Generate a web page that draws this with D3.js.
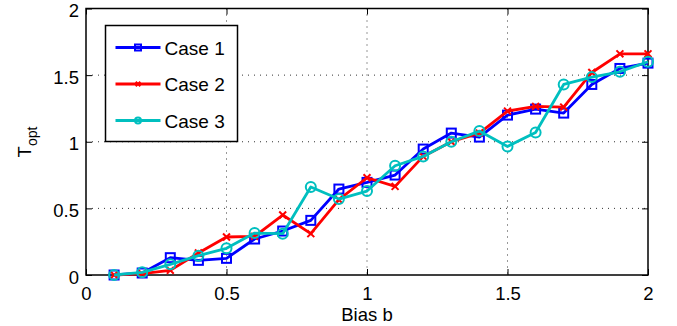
<!DOCTYPE html>
<html>
<head>
<meta charset="utf-8">
<script src="https://cdn.jsdelivr.net/npm/d3@7"></script>
<style>
  body { margin: 0; background: #fff; }
  svg { display: block; font-family: "Liberation Sans", Arial, Helvetica, sans-serif; }
</style>
</head>
<body>
<div class="container"></div>
<script>
const WIDTH = 677;
const HEIGHT = 326;
const MARGIN = {top: 8.5, right: 29, bottom: 51, left: 86};

var bias = [0.1,0.2,0.3,0.4,0.5,0.6,0.7,0.8,0.9,1.0,1.1,1.2,1.3,1.4,1.5,1.6,1.7,1.8,1.9,2.0];
var case1 = [0,0.015,0.13,0.11,0.125,0.27,0.33,0.41,0.645,0.695,0.75,0.945,1.065,1.035,1.2,1.245,1.215,1.43,1.55,1.59];
var case2 = [0,0.01,0.035,0.165,0.285,0.29,0.45,0.31,0.565,0.73,0.665,0.89,1.0,1.065,1.23,1.265,1.26,1.52,1.66,1.66];
var case3 = [0,0.02,0.08,0.145,0.2,0.315,0.31,0.66,0.57,0.63,0.82,0.89,1.0,1.08,0.965,1.07,1.43,1.485,1.525,1.6];
var xTicks = [0,0.5,1,1.5,2];
var yTicks = [0,0.5,1,1.5,2];
var seriesNames = ["Case 1","Case 2","Case 3"];
var seriesColors = ["#0000ff","#ff0000","#00bfbf"];
var seriesMarkers = ["square","cross","circle"];

var w = WIDTH - MARGIN.left - MARGIN.right;
var h = HEIGHT - MARGIN.top - MARGIN.bottom;

var x = d3.scaleLinear().domain([0,2]).range([0,w]);
var y = d3.scaleLinear().domain([0,2]).range([h,0]);

var svg = d3.select(".container").append("svg")
    .attr("width",WIDTH)
    .attr("height",HEIGHT);

var g = svg.append("g")
    .attr("transform","translate("+MARGIN.left+","+MARGIN.top+")");

// dotted grid
g.append("g").selectAll("line").data(xTicks.slice(1,-1)).enter().append("line")
    .attr("x1",function(d){return x(d);}).attr("x2",function(d){return x(d);})
    .attr("y1",0).attr("y2",h)
    .attr("stroke","#333").attr("stroke-width",1).attr("stroke-dasharray","1,5");
g.append("g").selectAll("line").data(yTicks.slice(1,-1)).enter().append("line")
    .attr("y1",function(d){return y(d);}).attr("y2",function(d){return y(d);})
    .attr("x1",0).attr("x2",w)
    .attr("stroke","#333").attr("stroke-width",1).attr("stroke-dasharray","1,5");

// axes with inward ticks
var axisStyle = function(sel){
    sel.select(".domain").remove();
    sel.selectAll(".tick line").attr("stroke","#000").attr("stroke-width",1);
    sel.selectAll(".tick text").attr("font-size","18.5px").attr("fill","#000");
};
g.append("g").attr("transform","translate(0,"+h+")")
    .call(d3.axisBottom(x).tickValues(xTicks).tickSizeInner(-6).tickPadding(12).tickFormat(d3.format("")))
    .call(axisStyle);
g.append("g")
    .call(d3.axisTop(x).tickValues(xTicks).tickSizeInner(-6).tickFormat(""))
    .call(axisStyle);
g.append("g")
    .call(d3.axisLeft(y).tickValues(yTicks).tickSizeInner(-6).tickPadding(7).tickFormat(d3.format("")))
    .call(axisStyle)
    .call(function(s){ s.selectAll(".tick text").attr("dy","0.44em"); });
g.append("g").attr("transform","translate("+w+",0)")
    .call(d3.axisRight(y).tickValues(yTicks).tickSizeInner(-6).tickFormat(""))
    .call(axisStyle);

g.append("rect").attr("width",w).attr("height",h)
    .attr("fill","none").attr("stroke","#000").attr("stroke-width",1.5);

var drawMarker = function(sel, type, color, s){
    if (type === "square") {
        sel.append("rect").attr("x",-s/2).attr("y",-s/2).attr("width",s).attr("height",s)
            .attr("fill","none").attr("stroke",color).attr("stroke-width",2);
    } else if (type === "circle") {
        sel.append("circle").attr("r",s/2)
            .attr("fill","none").attr("stroke",color).attr("stroke-width",2);
    } else {
        var c = s/2.6;
        sel.append("path").attr("d","M"+(-c)+","+(-c)+"L"+c+","+c+"M"+(-c)+","+c+"L"+c+","+(-c))
            .attr("fill","none").attr("stroke",color).attr("stroke-width",2);
    }
};

var line = d3.line()
    .x(function(d){return x(d[0]);})
    .y(function(d){return y(d[1]);});

[case1,case2,case3].forEach(function(vals,i){
    var pts = bias.map(function(b,j){return [b,vals[j]];});
    var sg = g.append("g");
    sg.append("path").datum(pts).attr("d",line)
        .attr("fill","none").attr("stroke",seriesColors[i]).attr("stroke-width",2.8)
        .attr("stroke-linejoin","round");
    sg.selectAll("g.mk").data(pts).enter().append("g")
        .attr("transform",function(d){return "translate("+x(d[0])+","+y(d[1])+")";})
        .each(function(){ drawMarker(d3.select(this), seriesMarkers[i], seriesColors[i], i===2 ? 10 : 9); });
});

// legend
var lg = svg.append("g").attr("transform","translate(105.5,25.5)");
lg.append("rect").attr("width",132).attr("height",116)
    .attr("fill","#fff").attr("stroke","#000").attr("stroke-width",1.5);
seriesNames.forEach(function(name,i){
    var yy = 22 + i*36.5;
    lg.append("line").attr("x1",10).attr("x2",55).attr("y1",yy).attr("y2",yy)
        .attr("stroke",seriesColors[i]).attr("stroke-width",2.8);
    var mk = lg.append("g").attr("transform","translate(32.5,"+yy+")");
    drawMarker(mk, seriesMarkers[i], seriesColors[i], 6);
    lg.append("text").attr("x",59).attr("y",yy+7).attr("font-size","19px").text(name);
});

// axis labels
svg.append("text").attr("x",MARGIN.left + w/2).attr("y",321)
    .attr("text-anchor","middle").attr("font-size","18.5px").text("Bias b");
var yl = svg.append("text")
    .attr("transform","translate(31,142) rotate(-90)")
    .attr("text-anchor","middle").attr("font-size","18.5px");
yl.append("tspan").text("T");
yl.append("tspan").attr("font-size","14px").attr("dy",6).text("opt");
</script>
</body>
</html>
